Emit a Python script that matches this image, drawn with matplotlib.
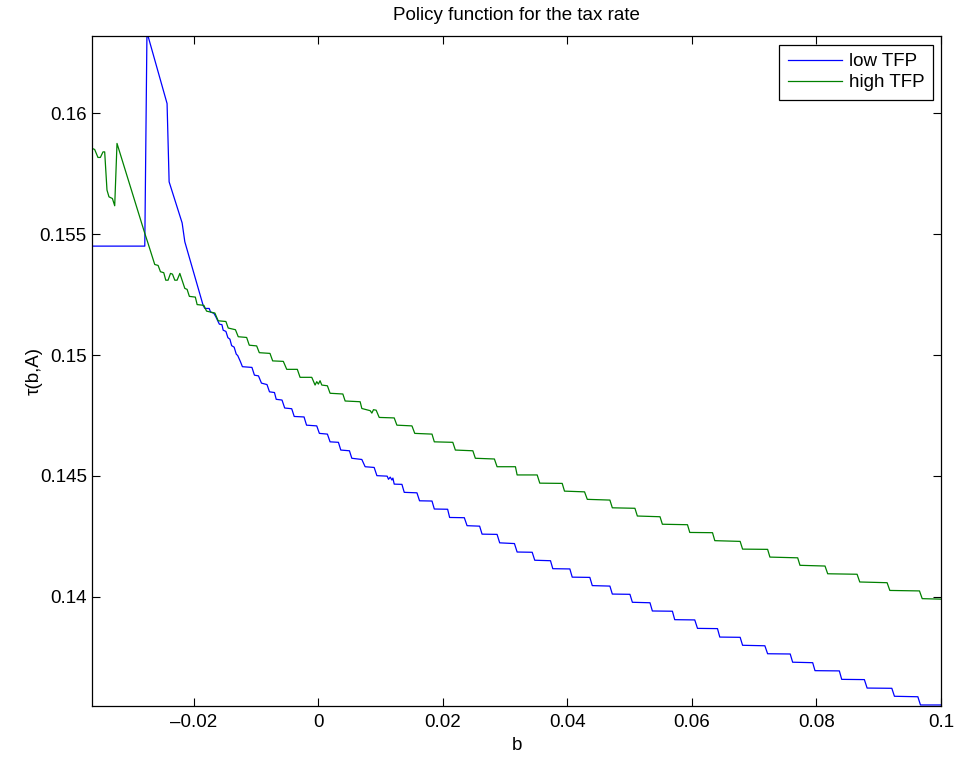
import matplotlib
matplotlib.use("Agg")
import matplotlib.pyplot as plt
from matplotlib.ticker import FuncFormatter

plt.rcParams["font.family"] = ["Liberation Sans", "DejaVu Sans"]

# low TFP policy
b_low = [-0.0363, -0.02788, -0.02753, -0.02430, -0.02397, -0.02188, -0.02145,
         -0.01850, -0.01823, -0.01754, -0.01731, -0.01678, -0.01646, -0.01622,
         -0.01590, -0.01549, -0.01529, -0.01485, -0.01453, -0.01421, -0.01393,
         -0.01353, -0.01319, -0.01295, -0.01252, -0.01220, -0.01067, -0.01027,
         -0.00962, -0.00914, -0.00825, -0.00785, -0.00705, -0.00677, -0.00584,
         -0.00541, -0.00428, -0.00388, -0.00230, -0.00190, -0.00026, 0.00016,
         0.00145, 0.00188, 0.00322, 0.00360, 0.00499, 0.00537, 0.00698, 0.00751,
         0.00896, 0.00940, 0.01105, 0.01126, 0.01154, 0.01181, 0.01197, 0.01218,
         0.01342, 0.01379, 0.01583, 0.01625, 0.01825, 0.01862, 0.02076, 0.02108,
         0.02344, 0.02388, 0.02590, 0.02629, 0.02870, 0.02912, 0.03149, 0.03192,
         0.03434, 0.03475, 0.03728, 0.03765, 0.04039, 0.04077, 0.04360, 0.04399,
         0.04682, 0.04721, 0.05004, 0.05043, 0.05326, 0.05364, 0.05686, 0.05723,
         0.06045, 0.06089, 0.06410, 0.06447, 0.06774, 0.06813, 0.07171, 0.07215,
         0.07578, 0.07617, 0.07939, 0.07976, 0.08367, 0.08405, 0.08769, 0.08813,
         0.09210, 0.09252, 0.09628, 0.09670, 0.1]
tau_low = [0.15451, 0.15451, 0.16336, 0.16041, 0.15717, 0.15547, 0.15469,
           0.15205, 0.15193, 0.15193, 0.15178, 0.15173, 0.15158, 0.15145,
           0.15128, 0.15126, 0.15103, 0.15098, 0.15072, 0.15066, 0.15039,
           0.15033, 0.15004, 0.14998, 0.14973, 0.14952, 0.14949, 0.14917,
           0.14914, 0.14884, 0.14878, 0.14848, 0.14845, 0.14817, 0.14814,
           0.14781, 0.14778, 0.14746, 0.14744, 0.14710, 0.14707, 0.14676,
           0.14673, 0.14641, 0.14639, 0.14607, 0.14604, 0.14573, 0.14568, 0.14538,
           0.14535, 0.14501, 0.14499, 0.14486, 0.14495, 0.14483, 0.14491, 0.14466,
           0.14465, 0.14432, 0.14430, 0.14397, 0.14396, 0.14363, 0.14362, 0.14328,
           0.14327, 0.14294, 0.14292, 0.14259, 0.14258, 0.14223, 0.14220, 0.14185,
           0.14184, 0.14151, 0.14149, 0.14116, 0.14115, 0.14081, 0.14080, 0.14046,
           0.14044, 0.14011, 0.14010, 0.13977, 0.13975, 0.13941, 0.13940, 0.13905,
           0.13904, 0.13869, 0.13868, 0.13833, 0.13832, 0.13799, 0.13797, 0.13764,
           0.13763, 0.13729, 0.13727, 0.13694, 0.13693, 0.13658, 0.13657, 0.13622,
           0.13621, 0.13588, 0.13586, 0.13552, 0.13552]

# high TFP policy
b_high = [-0.0363, -0.03593, -0.03540, -0.03501, -0.03459, -0.03432, -0.03395,
          -0.03363, -0.03308, -0.03271, -0.03234, -0.02788, -0.02735, -0.02628,
          -0.02574, -0.02536, -0.02483, -0.02451, -0.02414, -0.02375, -0.02343,
          -0.02306, -0.02269, -0.02225, -0.02145, -0.02108, -0.02072, -0.01976,
          -0.01947, -0.01839, -0.01796, -0.01662, -0.01609, -0.01485, -0.01448,
          -0.01332, -0.01287, -0.01152, -0.01110, -0.00991, -0.00949, -0.00777,
          -0.00734, -0.00563, -0.00508, -0.00338, -0.00294, -0.00106, -0.00053,
          -0.00026, 0.0, 0.00027, 0.00055, 0.00145, 0.00188, 0.00393, 0.00430,
          0.00671, 0.00698, 0.00832, 0.00859, 0.00885, 0.00928, 0.00977, 0.01218,
          0.01261, 0.01503, 0.01548, 0.01825, 0.01862, 0.02159, 0.02200, 0.02481,
          0.02521, 0.02827, 0.02870, 0.03165, 0.03192, 0.03514, 0.03556, 0.03916,
          0.03953, 0.04275, 0.04319, 0.04682, 0.04721, 0.05084, 0.05123, 0.05487,
          0.05525, 0.05928, 0.05965, 0.06330, 0.06367, 0.06774, 0.06813, 0.07215,
          0.07252, 0.07698, 0.07735, 0.08137, 0.08180, 0.08652, 0.08695, 0.09134,
          0.09178, 0.09654, 0.09698, 0.1]
tau_high = [0.15855, 0.15851, 0.15818, 0.15818, 0.15841, 0.15841, 0.15683,
            0.15655, 0.15648, 0.15618, 0.15876, 0.15504, 0.15462, 0.15375,
            0.15371, 0.15345, 0.15341, 0.15310, 0.15310, 0.15338, 0.15335,
            0.15310, 0.15310, 0.15338, 0.15276, 0.15272, 0.15243, 0.15240,
            0.15209, 0.15206, 0.15182, 0.15174, 0.15142, 0.15139, 0.15112,
            0.15105, 0.15076, 0.15073, 0.15041, 0.15038, 0.15010, 0.15007,
            0.14976, 0.14974, 0.14941, 0.14941, 0.14908, 0.14908, 0.14876,
            0.14890, 0.14880, 0.14894, 0.14876, 0.14873, 0.14842, 0.14839, 0.14810,
            0.14807, 0.14779, 0.14770, 0.14760, 0.14774, 0.14772, 0.14742, 0.14740,
            0.14710, 0.14707, 0.14676, 0.14673, 0.14641, 0.14639, 0.14607, 0.14604,
            0.14573, 0.14570, 0.14538, 0.14538, 0.14504, 0.14504, 0.14470, 0.14469,
            0.14437, 0.14434, 0.14403, 0.14400, 0.14368, 0.14366, 0.14334, 0.14331,
            0.14300, 0.14298, 0.14266, 0.14265, 0.14232, 0.14229, 0.14197, 0.14196,
            0.14164, 0.14161, 0.14130, 0.14127, 0.14095, 0.14093, 0.14061, 0.14058,
            0.14026, 0.14024, 0.13992, 0.13990]

x_ticks = [-0.02, 0, 0.02, 0.04, 0.06, 0.08, 0.1]
y_ticks = [0.14, 0.145, 0.15, 0.155, 0.16]

fs = 13.5

fig = plt.figure(figsize=(9.57, 7.58), dpi=100)
ax = fig.add_axes([0.0965, 0.069, 0.8868, 0.883])

ax.plot(b_low, tau_low, color="#0000ff", lw=0.9, label="low TFP")
ax.plot(b_high, tau_high, color="#008000", lw=0.9, label="high TFP")

ax.set_xlim(-0.0363, 0.1)
ax.set_ylim(0.13549, 0.16319)
ax.set_xticks(x_ticks)
ax.set_yticks(y_ticks)
ax.xaxis.set_major_formatter(FuncFormatter(lambda v, p: "{:g}".format(v).replace("-", "\u2013")))
ax.yaxis.set_major_formatter(FuncFormatter(lambda v, p: "{:g}".format(v)))
ax.tick_params(direction="in", length=6, width=0.8, top=True, right=True,
               labelsize=fs)
ax.tick_params(axis="x", pad=6)
ax.tick_params(axis="y", pad=4)
for s in ax.spines.values():
    s.set_linewidth(0.9)

ax.set_title("Policy function for the tax rate", fontsize=fs, pad=12)
ax.set_xlabel("b", fontsize=fs, labelpad=4)
ax.set_ylabel("\u03c4(b,A)", fontsize=fs, labelpad=-2)

leg = ax.legend(loc="upper right", fontsize=fs, fancybox=False,
                edgecolor="black", framealpha=1, handlelength=2.9,
                handletextpad=0.35, borderaxespad=0.45, borderpad=0.45,
                labelspacing=0.2)
leg.get_frame().set_linewidth(0.9)

fig.savefig("out.png", dpi=100)
